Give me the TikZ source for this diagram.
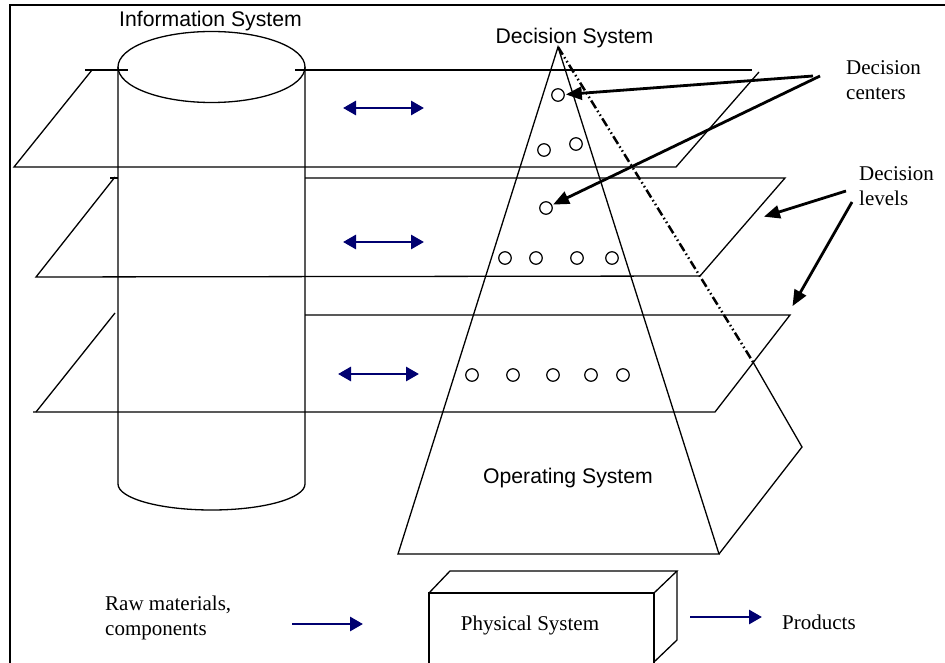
\documentclass[tikz,border=0pt]{standalone}
\usepackage{fontspec}
\setmainfont{Liberation Serif}
\setsansfont{Liberation Sans}
\usepackage{xcolor}
\usepackage{tikz}
\usetikzlibrary{arrows.meta, calc}
\definecolor{navy}{RGB}{0,0,112}

\begin{document}
\begin{tikzpicture}[
    x=1pt, y=-1pt,
    thin/.style={line width=1.3pt},
    frame/.style={line width=2.8pt},
    sys/.style={font=\sffamily\fontsize{21.2}{24}\selectfont, inner sep=0pt},
    txt/.style={font=\fontsize{21}{25}\selectfont, align=left, inner sep=0pt},
    dc/.style={circle, draw, line width=1.2pt, minimum size=12.5pt, inner sep=0pt},
    link/.style={-{Triangle[length=16pt, width=13pt]}, line width=2.8pt, shorten >=1pt},
    flow/.style={-{Triangle[length=13pt, width=14pt]}, navy, line width=2.8pt},
    twoway/.style={{Triangle[length=13pt, width=14pt]}-{Triangle[length=13pt, width=14pt]}, navy, line width=2.8pt},
    hidden/.style={line width=2.5pt, dash pattern=on 9pt off 3pt on 1.5pt off 3pt on 1.5pt off 3pt}
]
\useasboundingbox (0,0) rectangle (945,663);

% ---- Frame ----
\draw[frame] (10,663) -- (10,5) -- (945,5);

% ---- Information system (cylinder) ----
\draw[thin] (211.5,67) ellipse [x radius=93.5, y radius=35.5];
\draw[thin] (118,67) -- (118,484) arc[start angle=180, end angle=0, x radius=93.5, y radius=26] -- (305,67);
\node[sys, anchor=base] (infosys) at (210.5,27) {Information System};

% ---- Decision levels (planes) ----
% level 1
\draw[thin] (85,70) -- (128,70);
\draw[thin] (295,70) -- (752,70);
\draw[thin] (92,70) -- (14,167) -- (676,167) -- (759,72);
% level 2
\draw[thin] (110,178) -- (118,178);
\draw[thin] (305,178) -- (785,178) -- (700,276) -- (36,277) -- (115,177);
% level 3
\draw[thin] (305,315) -- (790,315) -- (715,412) -- (33,412);
\draw[thin] (36,412) -- (115,313);

% ---- Decision system (pyramid) ----
\coordinate (apex) at (558,47);
\coordinate (bl) at (398,554);
\coordinate (br) at (719,554);
\coordinate (bk) at (802,447);
\coordinate (hd) at (753,362);
\draw[thin] (bl) -- (apex) -- (br) -- cycle;
\draw[thin] (br) -- (bk) -- (hd);
\draw[hidden] (apex) -- (hd);
\node[sys, anchor=base] (decsys) at (574.5,44) {Decision System};
\node[sys, anchor=base] (opsys) at (568,483) {Operating System};

% Decision centers
\foreach \n/\x/\y in {1/558/95, 2/544/150, 3/576/144, 4/546/208,
    5/505/258, 6/536/258, 7/577/258, 8/612/258,
    9/472/375, 10/513/375, 11/553/375, 12/591/375, 13/623/375}
    \node[dc] (c\n) at (\x,\y) {};

% ---- Information exchange ----
\coordinate (iL1) at (343,108); \coordinate (iR1) at (424,108);
\coordinate (iL2) at (343,242); \coordinate (iR2) at (424,242);
\coordinate (iL3) at (338,374); \coordinate (iR3) at (419,374);
\foreach \i in {1,2,3}
    \draw[twoway] (iL\i) -- (iR\i);

% ---- Physical system ----
\draw[thin] (429,663) -- (429,593) -- (654,593) -- (654,663);
\draw[thin] (429,593) -- (450,571) -- (677,571) -- (654,593);
\draw[thin] (677,571) -- (677,640) -- (654,662);
\node[txt, anchor=base] (physys) at (530,630) {Physical System};

\node[txt, anchor=north west] (raw) at (105,596) {Raw materials,\\components};
\node[txt, anchor=base west] (products) at (782,629) {Products};
\coordinate (inA) at (292,624); \coordinate (inB) at (363,624);
\coordinate (outA) at (690,617); \coordinate (outB) at (762,617);
\draw[flow] (inA) -- (inB);
\draw[flow] (outA) -- (outB);

% ---- Side labels ----
\node[txt, anchor=north west] (centers) at (846,60) {Decision\\centers};
\node[txt, anchor=north west] (levels) at (859,166) {Decision\\levels};
\coordinate (dcA) at (813,76);
\coordinate (dcB) at (820,76);
\draw[link] (dcA) -- (c1);
\draw[link] (dcB) -- (c4);
\coordinate (lvA) at (846,191); \coordinate (lvtipA) at (763,217);
\coordinate (lvB) at (852,202); \coordinate (lvtipB) at (792,307);
\draw[link] (lvA) -- (lvtipA);
\draw[link] (lvB) -- (lvtipB);

\end{tikzpicture}
\end{document}
